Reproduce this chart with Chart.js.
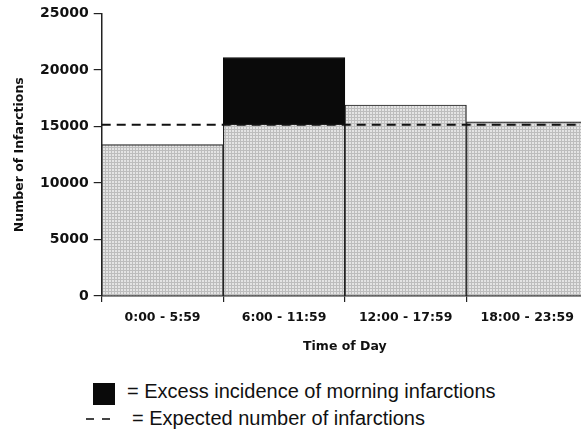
<!DOCTYPE html>
<html>
<head>
<meta charset="utf-8">
<script src="https://cdn.jsdelivr.net/npm/chart.js@4"></script>
<style>
  html, body { margin: 0; padding: 0; background: #fff; overflow: hidden; }
  #wrap { position: absolute; left: 0; top: 0; width: 588px; height: 362px; }
  .legend {
    position: absolute; white-space: nowrap; line-height: 20px;
    font-family: "Liberation Sans", Arial, sans-serif; font-size: 20px; color: #111;
  }
  .box { position: absolute; left: 93px; top: 383px; width: 22px; height: 22px; background: #0a0a0a; }
  .dash { position: absolute; top: 418px; width: 8px; height: 2px; background: #444; }
</style>
</head>
<body>
<div id="wrap"><canvas id="chart" width="588" height="362"></canvas></div>
<div class="box"></div>
<div class="legend" style="left:127px; top:381px">= Excess incidence of morning infarctions</div>
<div class="dash" style="left:86px"></div>
<div class="dash" style="left:102px"></div>
<div class="legend" style="left:132px; top:408px">= Expected number of infarctions</div>
<script>
// Data
const categories = ['0:00 - 5:59', '6:00 - 11:59', '12:00 - 17:59', '18:00 - 23:59'];
const baseCounts = [13400, 15200, 16900, 15400];
const excessCounts = [0, 5900, 0, 0];
const expectedCount = 15150;
const yTicks = [0, 5000, 10000, 15000, 20000, 25000];

document.addEventListener('DOMContentLoaded', function() {
    drawInfarctionChart();
});

/**
 * Stippled light grey fill like the scanned print
 */
function makeStipple() {
    const c = document.createElement('canvas');
    c.width = 3;
    c.height = 3;
    const g = c.getContext('2d');
    g.fillStyle = '#e4e4e4';
    g.fillRect(0, 0, 3, 3);
    g.fillStyle = '#bdbdbd';
    g.fillRect(0, 0, 3, 1);
    g.fillRect(0, 0, 1, 3);
    return g.createPattern(c, 'repeat');
}

function drawInfarctionChart() {
    const ctx = document.getElementById('chart').getContext('2d');
    const family = '"DejaVu Sans", sans-serif';

    new Chart(ctx, {
        type: 'bar',
        data: {
            labels: categories,
            datasets: [
                {
                    label: 'Observed',
                    data: baseCounts,
                    backgroundColor: makeStipple(),
                    borderColor: '#222',
                    borderWidth: 1.2,
                    borderSkipped: 'bottom',
                    grouped: false,
                    categoryPercentage: 1,
                    barPercentage: 1,
                    order: 2
                },
                {
                    label: 'Excess',
                    data: excessCounts,
                    backgroundColor: '#0a0a0a',
                    borderColor: '#0a0a0a',
                    borderWidth: 1,
                    grouped: false,
                    categoryPercentage: 1,
                    barPercentage: 1,
                    order: 2
                },
                {
                    type: 'line',
                    label: 'Expected',
                    xAxisID: 'xLine',
                    data: [{ x: 0, y: expectedCount }, { x: 4, y: expectedCount }],
                    borderColor: '#111',
                    borderWidth: 2,
                    borderDash: [9, 6],
                    pointRadius: 0,
                    order: 1
                }
            ]
        },
        options: {
            responsive: false,
            animation: false,
            layout: { padding: { top: 8, right: 0, left: 8, bottom: 8 } },
            plugins: {
                legend: { display: false },
                tooltip: { enabled: false }
            },
            scales: {
                x: {
                    stacked: true,
                    grid: { display: true, drawOnChartArea: false, offset: true, color: '#222', tickLength: 6, lineWidth: 1.2 },
                    border: { display: true, color: '#222', width: 1.5 },
                    ticks: { color: '#111', font: { family: family, size: 12.5, weight: 'bold' }, padding: 8, maxRotation: 0 },
                    title: { display: true, text: 'Time of Day', color: '#111', font: { family: family, size: 12.5, weight: 'bold' }, padding: { top: 6, bottom: 0 } }
                },
                xLine: {
                    type: 'linear',
                    display: false,
                    offset: false,
                    min: 0,
                    max: 4
                },
                y: {
                    stacked: true,
                    min: 0,
                    max: 25000,
                    afterBuildTicks: function(axis) {
                        axis.ticks = yTicks.map(v => ({ value: v }));
                    },
                    grid: { display: true, drawOnChartArea: false, color: '#222', tickLength: 8, lineWidth: 1.2 },
                    border: { display: true, color: '#222', width: 1.5 },
                    ticks: { color: '#111', font: { family: family, size: 14, weight: 'bold' }, padding: 5, callback: v => String(v) },
                    title: { display: true, text: 'Number of Infarctions', color: '#111', font: { family: family, size: 12.5, weight: 'bold' }, padding: { bottom: 8 } }
                }
            }
        }
    });
}
</script>
</body>
</html>
